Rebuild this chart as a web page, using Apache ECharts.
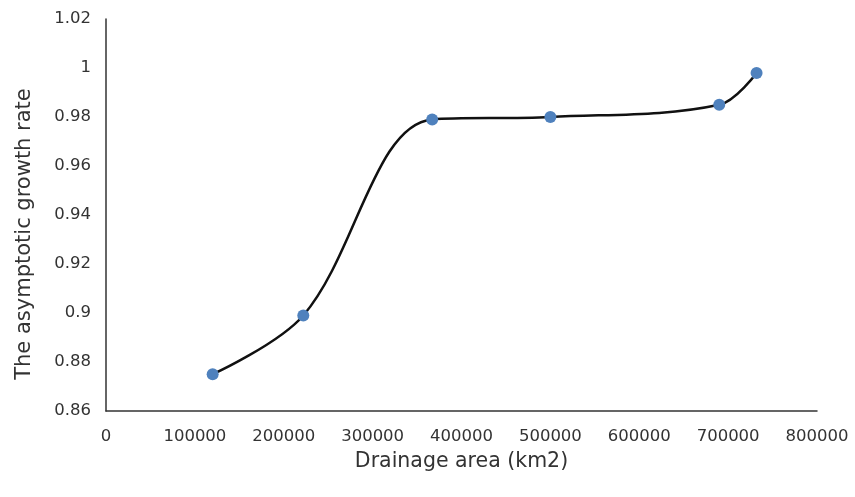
<!DOCTYPE html>
<html>
<head>
<meta charset="utf-8">
<script src="https://cdn.jsdelivr.net/npm/echarts@6/dist/echarts.min.js"></script>
<style>html,body{margin:0;padding:0;background:#fff}#c{width:855px;height:497px}</style>
</head>
<body>
<div id="c"></div>
<script>
const drainageArea = [120000, 222000, 367000, 500000, 690000, 732000];
const growthRate = [0.875, 0.899, 0.979, 0.98, 0.985, 0.998];
const xTitle = 'Drainage area (km2)';
const yTitle = 'The asymptotic growth rate';

const chart = echarts.init(document.getElementById('c'));
const font = 'DejaVu Sans';
chart.setOption({
  animation: false,
  grid: {left: 106, right: 38, top: 19, bottom: 86},
  xAxis: {
    type: 'value', min: 0, max: 800000, interval: 100000,
    name: xTitle, nameLocation: 'middle', nameGap: 40,
    nameTextStyle: {fontFamily: font, fontSize: 20.5, color: '#333'},
    axisLine: {show: true, onZero: false, lineStyle: {color: '#333', width: 1.5}},
    axisTick: {show: false},
    splitLine: {show: false},
    axisLabel: {fontFamily: font, fontSize: 16.5, color: '#333', margin: 17, formatter: v => String(v)}
  },
  yAxis: {
    type: 'value', min: 0.86, max: 1.02, interval: 0.02,
    name: yTitle, nameLocation: 'middle', nameGap: 71, nameRotate: 90,
    nameTextStyle: {fontFamily: font, fontSize: 21, color: '#333', padding: [0, 38, 0, 0]},
    axisLine: {show: true, lineStyle: {color: '#333', width: 1.5}},
    axisTick: {show: false},
    splitLine: {show: false},
    axisLabel: {fontFamily: font, fontSize: 16.5, color: '#333', margin: 15}
  },
  series: [{
    type: 'line',
    data: drainageArea.map((x, i) => [x, growthRate[i]]),
    smooth: 0.35,
    symbol: 'circle', symbolSize: 12,
    lineStyle: {color: '#111', width: 2.5},
    itemStyle: {color: '#4f81bd'}
  }]
});
</script>
</body>
</html>
